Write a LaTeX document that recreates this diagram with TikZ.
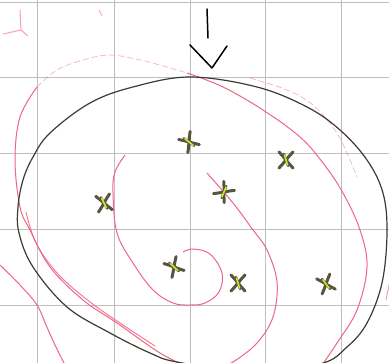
\documentclass[tikz,border=0pt]{standalone}
\usetikzlibrary{calc}
\definecolor{gridgrey}{RGB}{190,190,190}
\definecolor{pinkline}{RGB}{240,100,135}
\definecolor{inkdark}{RGB}{60,60,50}
\definecolor{olive}{RGB}{85,85,65}
\definecolor{hilite}{RGB}{215,230,50}
\tikzset{
  gridline/.style={gridgrey, line width=0.9pt},
  contour/.style={pinkline, line width=1pt},
  faintcontour/.style={pinkline, line width=0.7pt, opacity=0.5, dash pattern=on 6pt off 3pt},
  outline/.style={inkdark, line width=1.2pt},
  arrowstroke/.style={black, line width=1.5pt, line cap=round, line join=round},
  xmark/.pic={
    \draw[olive, line width=3pt, line cap=round] (-7,-8) .. controls (-2,-3) and (2,3) .. (7,8);
    \draw[olive, line width=3pt, line cap=round] (7,-8) .. controls (2,-3) and (-2,3) .. (-7,8);
    \draw[olive, line width=2.4pt, line cap=round] (-2,-6) -- (2,6);
    \draw[hilite, line width=1.6pt, line cap=round] (-1.5,-5) -- (1.5,5);
  }
}
\begin{document}
\begin{tikzpicture}[x=1pt,y=-1pt]
\useasboundingbox (0,0) rectangle (389,363);
\fill[white] (0,0) rectangle (389,363);
\begin{scope}
\clip (0,0) rectangle (389,363);
% grid
\foreach \gx in {37,114,190,265,341} \draw[gridline] (\gx,0) -- (\gx,363);
\foreach \gy in {2,77,153,229,305} \draw[gridline] (0,\gy) -- (389,\gy);

% pink contours
\draw[contour] plot[smooth, tension=0.6] coordinates {
 (190,368) (160,353) (117,323) (83,300) (50,267) (30,230) (20,207) (15,160) (20,117) (37,87)};
\draw[faintcontour] plot[smooth, tension=0.6] coordinates {
 (37,87) (57,70) (83,60) (110,55) (140,60) (167,67) (187,73)};
\draw[contour] plot[smooth, tension=0.6] coordinates {
 (187,73) (223,87) (263,110) (300,137) (323,163) (343,193) (360,230) (367,267) (357,310) (337,343) (320,368)};
\draw[contour, opacity=0.85] plot[smooth, tension=0.6] coordinates {
 (26,212) (36,243) (58,274) (90,302) (123,325) (155,346)};
\draw[faintcontour] plot[smooth, tension=0.6] coordinates {
 (250,78) (287,90) (313,105) (335,130) (347,153) (357,177)};
\draw[contour] plot[smooth, tension=0.6] coordinates {
 (0,265) (20,285) (37,305) (46,325) (55,345) (65,365)};
\draw[contour] plot[smooth, tension=0.6] coordinates {
 (125,155) (115,172) (113,193) (117,233) (133,263) (153,290) (173,303) (190,305)
 (205,303) (219,292) (222,273) (210,254) (193,249) (183,252)};
\draw[contour] plot[smooth, tension=0.6] coordinates {
 (207,173) (233,203) (253,230) (267,250) (277,282) (273,317) (257,343) (233,362) (215,370)};
\draw[contour, opacity=0.6] (389,285) -- (386,300);
\draw[contour, opacity=0.6] (20,10) -- (21,30) -- (3,34);
\draw[contour, opacity=0.6] (21,30) -- (28,36);
\draw[contour, opacity=0.5] (99,10) -- (102,16);

% black outline
\draw[outline] plot[smooth cycle, tension=0.6] coordinates {
 (190,77) (257,87) (307,107) (340,130) (367,160) (383,193) (387,233) (382,283)
 (367,323) (347,347) (320,364) (250,372) (177,362) (150,353) (110,333) (67,307)
 (33,267) (19,233) (18,207) (23,180) (33,157) (50,133) (90,103) (133,87)};
\end{scope}

% arrow
\coordinate (arrowtop) at (207,9);
\coordinate (arrowmid) at (208,38);
\coordinate (vleft) at (190,45);
\coordinate (vtip) at (212,68);
\coordinate (vright) at (227,46);
\draw[arrowstroke] (arrowtop) -- (arrowmid);
\draw[arrowstroke] (vleft) -- (vtip) -- (vright);

% marks
\pic[rotate=35] at (189,142) {xmark};
\pic[rotate=0] at (286,160) {xmark};
\pic[rotate=-40] at (224,192) {xmark};
\pic[rotate=10] at (104,203) {xmark};
\pic[rotate=30] at (174,267) {xmark};
\pic[rotate=0] at (238,283) {xmark};
\pic[rotate=20] at (326,284) {xmark};
\end{tikzpicture}
\end{document}
